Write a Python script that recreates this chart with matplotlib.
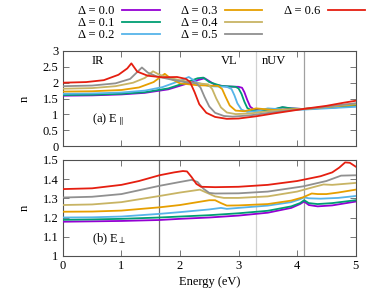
import matplotlib
matplotlib.use('Agg')
import matplotlib.pyplot as plt
from matplotlib.lines import Line2D

plt.rcParams['font.family'] = ['Liberation Serif', 'DejaVu Serif']
plt.rcParams['mathtext.fontset'] = 'stix'
plt.rcParams['font.size'] = 9

deltas = ['0.0', '0.1', '0.2', '0.3', '0.4', '0.5', '0.6']
colors = ['#9400d3', '#009e73', '#56b4e9', '#e69f00', '#c8b464', '#909090', '#e51e10']

# (a) E parallel : energy (eV), refractive index n
par_e = [
    [0, 0.5, 1.0, 1.4, 1.8, 2.1, 2.3, 2.42, 2.5, 2.6, 2.8, 3.0, 3.06, 3.1, 3.15, 3.2, 3.27, 3.4, 3.6, 3.75, 3.9, 4.1, 4.4, 4.7, 5.0],
    [0, 0.5, 1.0, 1.4, 1.8, 2.1, 2.3, 2.4, 2.5, 2.7, 2.95, 3.0, 3.05, 3.1, 3.15, 3.22, 3.4, 3.6, 3.75, 3.9, 4.1, 4.4, 4.7, 5.0],
    [0, 0.5, 1.0, 1.4, 1.7, 2.0, 2.15, 2.3, 2.5, 2.8, 2.88, 2.93, 2.98, 3.05, 3.15, 3.3, 3.5, 3.65, 3.85, 4.1, 4.4, 4.7, 5.0],
    [0, 0.5, 1.0, 1.3, 1.55, 1.74, 1.85, 2.0, 2.3, 2.65, 2.72, 2.78, 2.85, 2.95, 3.1, 3.3, 3.6, 3.9, 4.2, 4.6, 5.0],
    [0, 0.5, 0.9, 1.2, 1.4, 1.54, 1.65, 1.85, 2.05, 2.3, 2.48, 2.55, 2.62, 2.7, 2.8, 2.95, 3.2, 3.5, 3.9, 4.3, 4.7, 5.0],
    [0, 0.5, 0.9, 1.15, 1.35, 1.45, 1.6, 1.85, 2.1, 2.28, 2.35, 2.42, 2.5, 2.6, 2.75, 2.9, 3.2, 3.6, 4.0, 4.4, 4.7, 5.0],
    [0, 0.4, 0.7, 0.95, 1.1, 1.17, 1.27, 1.45, 1.7, 1.95, 2.1, 2.17, 2.25, 2.33, 2.45, 2.6, 2.8, 3.0, 3.3, 3.6, 4.1, 4.5, 4.8, 5.0],
]
par_n = [
    [1.59, 1.60, 1.63, 1.68, 1.79, 1.96, 2.08, 2.14, 2.05, 1.93, 1.88, 1.87, 1.84, 1.70, 1.45, 1.24, 1.15, 1.13, 1.15, 1.22, 1.19, 1.17, 1.20, 1.23, 1.26],
    [1.61, 1.62, 1.65, 1.70, 1.82, 2.00, 2.14, 2.16, 2.02, 1.90, 1.87, 1.82, 1.65, 1.40, 1.20, 1.13, 1.12, 1.16, 1.23, 1.19, 1.17, 1.20, 1.23, 1.27],
    [1.65, 1.66, 1.69, 1.75, 1.86, 2.06, 2.18, 2.00, 1.89, 1.87, 1.80, 1.60, 1.35, 1.15, 1.08, 1.10, 1.19, 1.17, 1.15, 1.15, 1.18, 1.21, 1.24],
    [1.72, 1.73, 1.77, 1.85, 2.02, 2.28, 2.12, 1.98, 1.92, 1.90, 1.80, 1.55, 1.28, 1.12, 1.10, 1.19, 1.14, 1.16, 1.18, 1.25, 1.31],
    [1.81, 1.83, 1.89, 2.00, 2.15, 2.36, 2.25, 2.14, 2.06, 1.98, 1.95, 1.80, 1.50, 1.22, 1.06, 1.01, 1.03, 1.10, 1.15, 1.20, 1.28, 1.34],
    [1.89, 1.91, 1.98, 2.12, 2.48, 2.32, 2.20, 2.10, 2.02, 1.98, 1.85, 1.55, 1.25, 1.05, 0.95, 0.93, 0.97, 1.07, 1.15, 1.22, 1.29, 1.35],
    [2.00, 2.02, 2.08, 2.25, 2.45, 2.61, 2.35, 2.22, 2.17, 2.18, 2.12, 2.03, 1.70, 1.32, 1.05, 0.92, 0.86, 0.87, 0.94, 1.03, 1.17, 1.27, 1.37, 1.43],
]

# (b) E perpendicular
per_e = [
    [0, 0.5, 1.0, 1.65, 2.0, 2.5, 3.0, 3.5, 3.9, 4.05, 4.12, 4.2, 4.35, 4.6, 5.0],
    [0, 0.5, 1.0, 1.65, 2.0, 2.5, 3.0, 3.5, 3.9, 4.05, 4.12, 4.2, 4.35, 4.6, 5.0],
    [0, 0.5, 1.0, 1.65, 2.0, 2.5, 2.7, 2.8, 3.0, 3.5, 3.9, 4.05, 4.12, 4.2, 4.4, 4.7, 5.0],
    [0, 0.5, 1.0, 1.65, 2.0, 2.5, 2.6, 2.7, 2.8, 3.0, 3.5, 3.9, 4.1, 4.25, 4.35, 4.5, 4.7, 5.0],
    [0, 0.5, 1.0, 1.65, 2.0, 2.34, 2.45, 2.6, 2.75, 3.0, 3.5, 4.0, 4.3, 4.45, 4.6, 5.0],
    [0, 0.5, 1.0, 1.65, 2.0, 2.2, 2.3, 2.4, 2.5, 2.6, 3.0, 3.5, 4.1, 4.5, 4.75, 5.0],
    [0, 0.5, 1.0, 1.3, 1.65, 1.9, 2.05, 2.12, 2.2, 2.28, 2.36, 2.6, 3.0, 3.5, 4.0, 4.4, 4.6, 4.72, 4.82, 4.9, 5.0],
]
per_n = [
    [1.178, 1.180, 1.182, 1.187, 1.193, 1.200, 1.210, 1.225, 1.250, 1.270, 1.283, 1.265, 1.258, 1.263, 1.283],
    [1.188, 1.190, 1.193, 1.200, 1.205, 1.212, 1.222, 1.235, 1.258, 1.275, 1.290, 1.275, 1.270, 1.275, 1.290],
    [1.200, 1.201, 1.205, 1.219, 1.228, 1.242, 1.250, 1.245, 1.250, 1.262, 1.280, 1.295, 1.305, 1.300, 1.298, 1.302, 1.312],
    [1.230, 1.231, 1.236, 1.253, 1.265, 1.290, 1.290, 1.275, 1.262, 1.263, 1.270, 1.288, 1.305, 1.325, 1.322, 1.322, 1.330, 1.345],
    [1.265, 1.268, 1.280, 1.312, 1.330, 1.345, 1.330, 1.310, 1.302, 1.302, 1.310, 1.335, 1.360, 1.372, 1.370, 1.380],
    [1.304, 1.308, 1.322, 1.365, 1.385, 1.396, 1.385, 1.350, 1.328, 1.325, 1.326, 1.335, 1.362, 1.390, 1.418, 1.420],
    [1.348, 1.352, 1.370, 1.390, 1.420, 1.435, 1.442, 1.440, 1.410, 1.375, 1.360, 1.358, 1.360, 1.370, 1.390, 1.415, 1.435, 1.460, 1.487, 1.485, 1.465],
]

# region boundaries (eV) and their line colours
bounds = [1.65, 3.3, 4.12]
bound_colors = ['#707070', '#d0d0d0', '#a0a0a0']

fig = plt.figure(figsize=(3.74, 3.0), dpi=100)
ax1 = fig.add_axes([0.168, 0.513, 0.783, 0.317])
ax2 = fig.add_axes([0.168, 0.147, 0.783, 0.320])

for ax in (ax1, ax2):
    for b, bc in zip(bounds, bound_colors):
        ax.axvline(b, color=bc, lw=0.9, zorder=1)
    ax.set_xlim(0, 5)
    ax.set_xticks(range(6))
    ax.tick_params(direction='in', top=True, right=True, length=4, width=0.6,
                   color='#606060', pad=3)
    for s in ax.spines.values():
        s.set_color('#505050')
        s.set_linewidth(0.8)

lines = []
for i in range(len(deltas)):
    l, = ax1.plot(par_e[i], par_n[i], color=colors[i], lw=1.3, zorder=3)
    ax2.plot(per_e[i], per_n[i], color=colors[i], lw=1.3, zorder=3)
    lines.append(l)

ax1.set_ylim(0, 3)
ax1.set_yticks([0, 0.5, 1, 1.5, 2, 2.5, 3])
ax1.set_yticklabels(['0', '0.5', '1', '1.5', '2', '2.5', '3'])
ax1.set_xticklabels([])
ax1.set_ylabel('n', labelpad=9)

ax2.set_ylim(1, 1.5)
ax2.set_yticks([1, 1.1, 1.2, 1.3, 1.4, 1.5])
ax2.set_yticklabels(['1', '1.1', '1.2', '1.3', '1.4', '1.5'])
ax2.set_ylabel('n', labelpad=9)
ax2.set_xlabel('Energy (eV)', labelpad=3)

ax1.text(0.6, 2.68, 'IR', ha='center', va='center')
ax1.text(2.84, 2.68, 'VL', ha='center', va='center')
ax1.text(3.6, 2.68, 'nUV', ha='center', va='center')
ax1.text(0.5, 0.82, r'(a) E$_{\parallel}$', ha='left', va='center')
ax2.text(0.5, 1.085, r'(b) E$_{\perp}$', ha='left', va='center')

# legend: 3 columns, text before line sample
handles = lines[:6] + [lines[6], Line2D([], [], lw=0), Line2D([], [], lw=0)]
labels = ['Δ = ' + d for d in deltas[:6]] + ['Δ = ' + deltas[6], '', '']
fig.legend(handles, labels, ncol=3, markerfirst=False, frameon=False,
           loc='upper center', bbox_to_anchor=(0.593, 1.012),
           handlelength=3.0, handletextpad=0.6, columnspacing=1.7,
           labelspacing=0.0, borderpad=0.2)

fig.savefig('out.png', dpi=100)
